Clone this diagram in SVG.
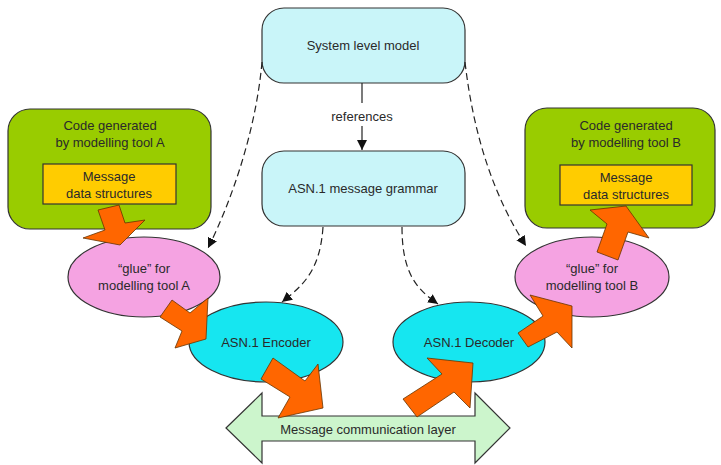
<svg xmlns="http://www.w3.org/2000/svg" width="721" height="465" viewBox="0 0 721 465">
<defs>
<marker id="ah" viewBox="0 0 10 10" refX="10" refY="5" markerWidth="10" markerHeight="10" markerUnits="userSpaceOnUse" orient="auto">
<path d="M0,0 L10,5 L0,10 Z" fill="#111"/>
</marker>
<style>
text{font-family:"Liberation Sans",Arial,sans-serif;font-size:13px;fill:#2a2a2a;text-anchor:middle;dominant-baseline:central}
.cyanbox{fill:#c9f5f9;stroke:#333;stroke-width:1.2}
.green{fill:#99cc00;stroke:#333;stroke-width:1.2}
.yellow{fill:#ffcc00;stroke:#333;stroke-width:1.2}
.pink{fill:#f5a3e2;stroke:#333;stroke-width:1.2}
.cyan{fill:#16e6f0;stroke:#333;stroke-width:1.2}
.layer{fill:#ccf5cc;stroke:#333;stroke-width:1.2}
.orange{fill:#ff6600;stroke:#663300;stroke-width:0.8;stroke-linejoin:miter}
.dash{fill:none;stroke:#222;stroke-width:1.2;stroke-dasharray:7 4;marker-end:url(#ah)}
.solid{fill:none;stroke:#222;stroke-width:1.2}
</style>
</defs>
<rect width="721" height="465" fill="#fff"/>

<g id="system-level-model">
<rect class="cyanbox" x="262" y="8" width="203" height="75" rx="22"/>
<text x="363" y="45">System level model</text>
</g>

<g id="asn1-grammar">
<rect class="cyanbox" x="262" y="151" width="203" height="75" rx="22"/>
<text x="363" y="188">ASN.1 message grammar</text>
</g>

<g id="code-a">
<rect class="green" x="8" y="109" width="203" height="120" rx="22"/>
<text x="110" y="125">Code generated</text>
<text x="110" y="142">by modelling tool A</text>
</g>
<g id="msg-a">
<rect class="yellow" x="43" y="164" width="133" height="40"/>
<text x="109" y="176">Message</text>
<text x="109" y="193">data structures</text>
</g>

<g id="code-b">
<rect class="green" x="525" y="108" width="190" height="120" rx="22"/>
<text x="626" y="125">Code generated</text>
<text x="626" y="142">by modelling tool B</text>
</g>
<g id="msg-b">
<rect class="yellow" x="560" y="165" width="132" height="40"/>
<text x="626" y="177">Message</text>
<text x="626" y="194">data structures</text>
</g>

<g id="glue-a">
<ellipse class="pink" cx="144" cy="277" rx="76" ry="40"/>
<text x="144" y="268">“glue” for</text>
<text x="144" y="285">modelling tool A</text>
</g>

<g id="glue-b">
<ellipse class="pink" cx="592" cy="277" rx="77" ry="40"/>
<text x="592" y="268">“glue” for</text>
<text x="592" y="285">modelling tool B</text>
</g>

<g id="encoder">
<ellipse class="cyan" cx="266" cy="342" rx="77" ry="40"/>
<text x="266" y="342">ASN.1 Encoder</text>
</g>

<g id="decoder">
<ellipse class="cyan" cx="469" cy="342" rx="76" ry="40"/>
<text x="469" y="342">ASN.1 Decoder</text>
</g>

<g id="comm-layer">
<polygon class="layer" points="226,428 262,393 262,416 475,416 475,393 510,428 475,463 475,441 262,441 262,463"/>
<text x="368" y="429">Message communication layer</text>
</g>

<g id="connectors">
<line class="solid" x1="362" y1="83" x2="362" y2="103"/>
<text x="362" y="116">references</text>
<line class="solid" x1="362" y1="126" x2="362" y2="150" marker-end="url(#ah)"/>
<path class="dash" d="M262,62 C256,130 232,200 208,248"/>
<path class="dash" d="M465,62 C474,140 496,200 526,246"/>
<path class="dash" d="M323,227 C320,272 302,286 282,302"/>
<path class="dash" d="M402,227 C402,275 418,290 438,304"/>
<polygon class="orange" points="98,210 119,205 125,223 145,220 120,245 83,238 105,230"/>
<polygon class="orange" points="172,300 190,313 208,298 206,339 175,348 182,331 160,317"/>
<polygon class="orange" points="273,358 305,381 318,364 323,408 278,418 290,397 261,379"/>
<polygon class="orange" points="403,399 442,374 427,358 473,363 470,408 454,392 417,417"/>
<polygon class="orange" points="518,333 543,316 530,295 572,306 572,348 557,332 528,347"/>
<polygon class="orange" points="590,210 626,206 649,238 628,232 618,260 597,252 607,224"/>
</g>
</svg>
